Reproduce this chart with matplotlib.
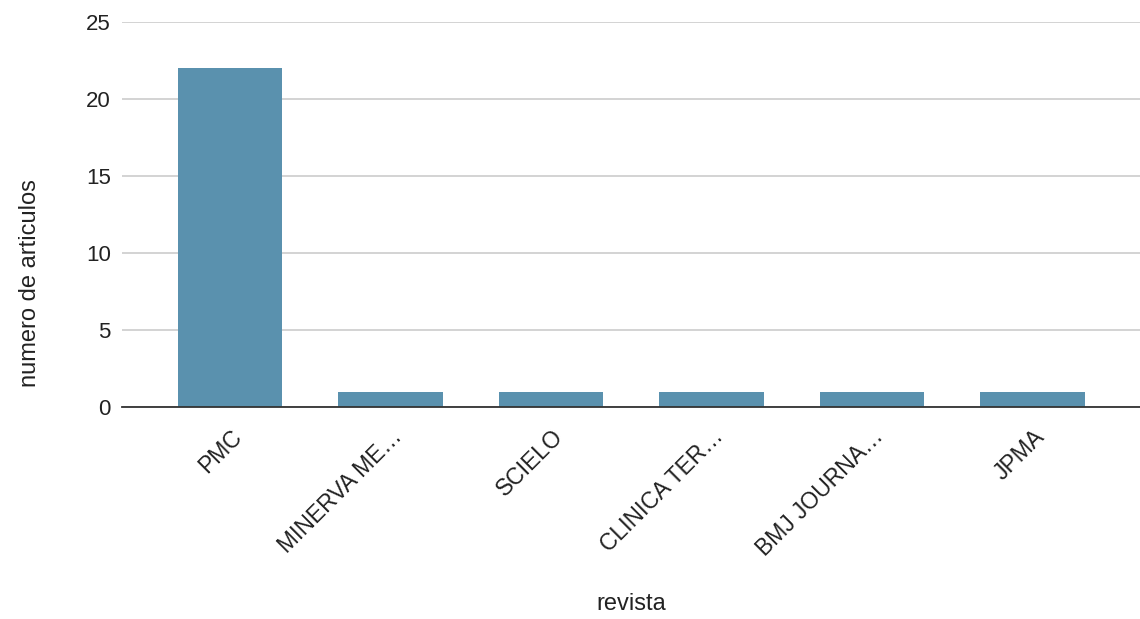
import matplotlib
matplotlib.use("Agg")
import matplotlib.pyplot as plt

revistas = ["PMC", "MINERVA ME…", "SCIELO", "CLINICA TER…", "BMJ JOURNA…", "JPMA"]
articulos = [22, 1, 1, 1, 1, 1]
yticks = [0, 5, 10, 15, 20, 25]

plt.rcParams['font.family'] = ['Liberation Sans', 'DejaVu Sans']

fig = plt.figure(figsize=(11.4, 6.19), dpi=100)
ax = fig.add_axes([0.107, 0.3425, 0.893, 0.622])

x = range(len(revistas))
ax.bar(x, articulos, width=0.65, color="#5a91ae", zorder=3)

ax.set_ylim(0, 25)
ax.set_xlim(-0.674, 5.67)
ax.set_yticks(yticks)
ax.set_yticklabels([str(t) for t in yticks], fontsize=16, color="#222222")
ax.yaxis.grid(True, color="#cccccc", linewidth=1.2, zorder=0)

ax.set_xticks(list(x))
ax.set_xticklabels(revistas, rotation=45, ha="right", rotation_mode="anchor",
                   fontsize=16.5, color="#222222")

ax.tick_params(axis="y", length=0, pad=8)
ax.tick_params(axis="x", length=0, pad=13)
for side in ["top", "right", "left"]:
    ax.spines[side].set_visible(False)
ax.spines["bottom"].set_color("#333333")
ax.spines["bottom"].set_linewidth(1.3)
ax.spines["bottom"].set_zorder(4)

fig.text(0.026, 0.543, "numero de articulos", rotation=90, ha="center", va="center",
         fontsize=17, color="#222222")
fig.text(0.554, 0.025, "revista", ha="center", va="center", fontsize=17, color="#222222")

fig.savefig("out.png", dpi=100)
